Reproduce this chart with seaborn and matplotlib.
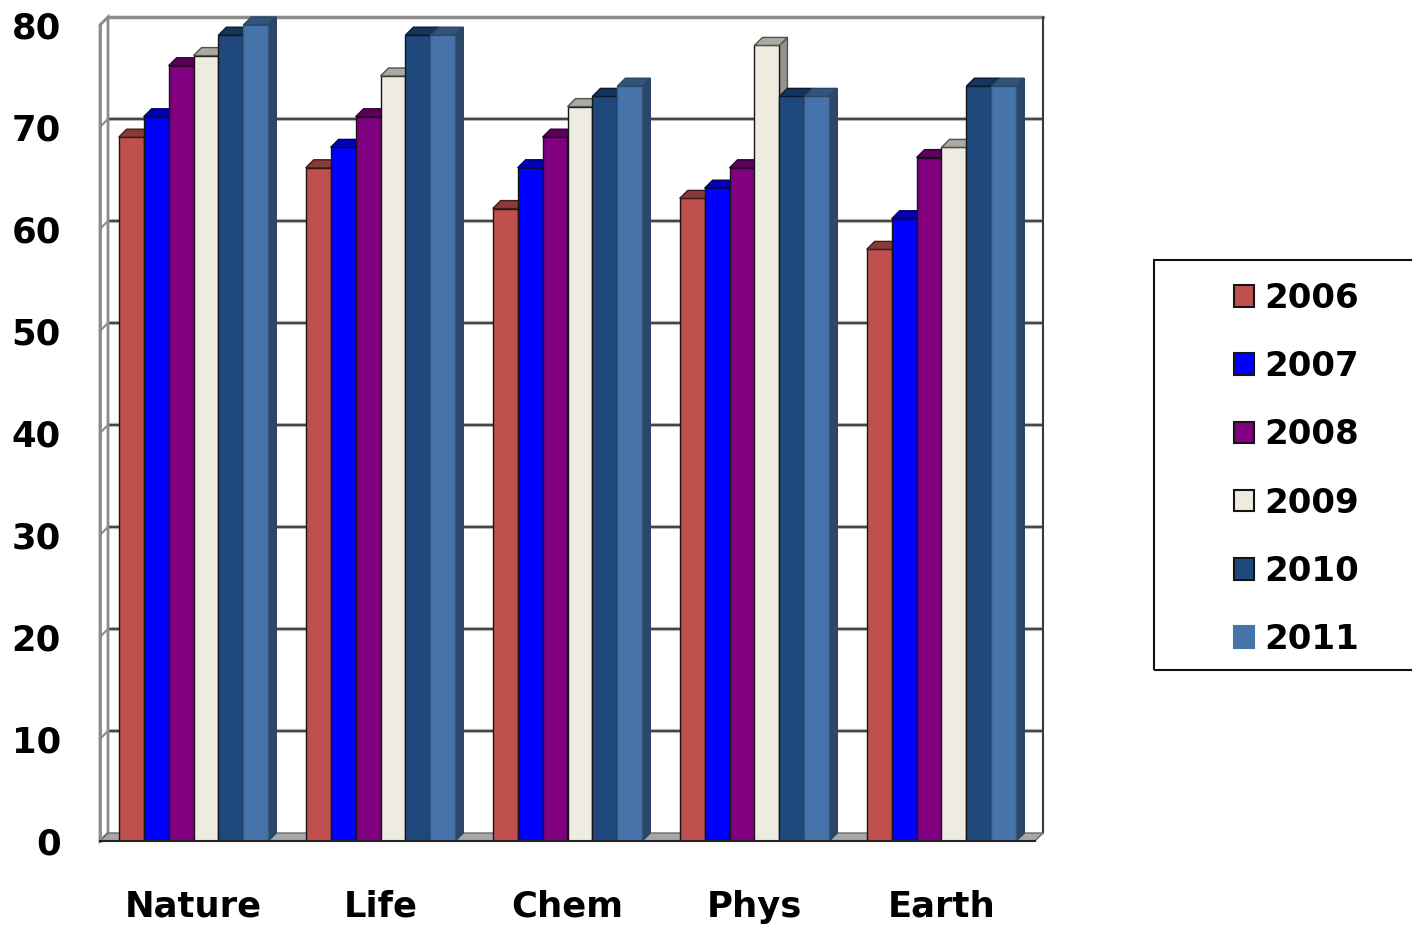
import matplotlib
matplotlib.use("Agg")
import matplotlib.pyplot as plt
import seaborn as sns
import pandas as pd
import numpy as np
from matplotlib.patches import Polygon, Rectangle
from matplotlib.colors import to_rgb

# ---- data -------------------------------------------------------------
categories = ["Nature", "Life", "Chem", "Phys", "Earth"]
years = ["2006", "2007", "2008", "2009", "2010", "2011"]

v2006 = [69, 66, 62, 63, 58]
v2007 = [71, 68, 66, 64, 61]
v2008 = [76, 71, 69, 66, 67]
v2009 = [77, 75, 72, 78, 68]
v2010 = [79, 79, 73, 73, 74]
v2011 = [80, 79, 74, 73, 74]
series = [v2006, v2007, v2008, v2009, v2010, v2011]

y_ticks = [0, 10, 20, 30, 40, 50, 60, 70, 80]

colors = ["#C0504D", "#0000FF", "#800080", "#EEECE1", "#1F497D", "#4674AA"]
palette = dict(zip(years, colors))

df = pd.DataFrame({
    "field": np.tile(categories, len(years)),
    "year": np.repeat(years, len(categories)),
    "score": np.concatenate(series),
})

# ---- figure -----------------------------------------------------------
sns.set_style("white")
plt.rcParams["font.family"] = ["DejaVu Sans"]
plt.rcParams["font.weight"] = "bold"
plt.rcParams["text.color"] = "black"
plt.rcParams["xtick.color"] = "black"
plt.rcParams["ytick.color"] = "black"
plt.rcParams["xtick.labelcolor"] = "black"
plt.rcParams["ytick.labelcolor"] = "black"

W, H = 1412, 926
fig = plt.figure(figsize=(W / 100, H / 100), dpi=100)
px_l, px_r, px_b, px_t = 100, 1035, 841, 25
ax = fig.add_axes([px_l / W, 1 - px_b / H, (px_r - px_l) / W, (px_b - px_t) / H])

sns.barplot(data=df, x="field", y="score", hue="year", hue_order=years,
            order=categories, palette=palette, width=0.8, saturation=1,
            edgecolor="#151515", linewidth=1.0, ax=ax, legend=True)

ax.set_xlim(-0.5, 4.5)
ax.set_ylim(0, 80)

# depth of the pseudo-3D box, in data units
depth_px = 8
ddx = depth_px / ((px_r - px_l) / 5)
ddy = depth_px / ((px_b - px_t) / 80)


def shade(c, f):
    r, g, b = to_rgb(c)
    return (r * f, g * f, b * f)


# floor and left wall
ax.add_patch(Polygon([(-0.5, 0), (4.5, 0), (4.5 + ddx, ddy), (-0.5 + ddx, ddy)],
                     closed=True, facecolor="#a8a8a8", edgecolor="#6a6a6a",
                     lw=1, zorder=1.2, clip_on=False))
ax.add_patch(Polygon([(-0.5, 0), (-0.5, 80), (-0.5 + ddx, 80 + ddy), (-0.5 + ddx, ddy)],
                     closed=True, facecolor="white", edgecolor="#8c8c8c",
                     lw=2, zorder=1.1, clip_on=False))

# back wall gridlines
for v in y_ticks[1:-1]:
    ax.plot([-0.5 + ddx, 4.5 + ddx], [v + ddy, v + ddy], color="#b5b5b5",
            lw=3, zorder=1, clip_on=False, solid_capstyle="butt")
    ax.plot([-0.5 + ddx, 4.5 + ddx], [v + ddy, v + ddy], color="#3a3a3a",
            lw=1.3, zorder=1.05, clip_on=False, solid_capstyle="butt")
for v in y_ticks:
    ax.plot([-0.5, -0.5 + ddx], [v, v + ddy], color="#8c8c8c", lw=1.5,
            zorder=1.15, clip_on=False)
ax.plot([-0.5 + ddx, 4.5 + ddx], [80 + ddy, 80 + ddy], color="#8c8c8c",
        lw=2.5, zorder=1, clip_on=False)
ax.plot([4.5 + ddx, 4.5 + ddx], [ddy, 80 + ddy], color="#3a3a3a",
        lw=1.5, zorder=1, clip_on=False)

# bar faces: front from seaborn, plus top and side faces
for h, cont in enumerate(ax.containers):
    base = colors[h]
    z = 3 + h
    for bar in cont:
        x0, w, hgt = bar.get_x(), bar.get_width(), bar.get_height()
        bar.set_zorder(z)
        if years[h] == "2011":
            bar.set_edgecolor(shade(base, 0.75))
        top_ec = shade(base, 0.35) if years[h] != "2011" else shade(base, 0.6)
        ax.add_patch(Polygon([(x0, hgt), (x0 + w, hgt), (x0 + w + ddx, hgt + ddy),
                              (x0 + ddx, hgt + ddy)], closed=True,
                             facecolor=shade(base, 0.72), edgecolor=top_ec,
                             lw=1.0, zorder=z, clip_on=False))
        ax.add_patch(Polygon([(x0 + w, 0), (x0 + w, hgt), (x0 + w + ddx, hgt + ddy),
                              (x0 + w + ddx, ddy)], closed=True,
                             facecolor=shade(base, 0.62), edgecolor=top_ec,
                             lw=1.0, zorder=z - 0.5, clip_on=False))

# axes, ticks and labels
for s in ["top", "right"]:
    ax.spines[s].set_visible(False)
ax.spines["left"].set_color("#8c8c8c")
ax.spines["left"].set_linewidth(2)
ax.spines["bottom"].set_color("#222222")
ax.spines["bottom"].set_linewidth(1.5)
ax.spines["bottom"].set_zorder(20)

ax.set_yticks(y_ticks)
ax.set_yticklabels([str(v) for v in y_ticks], fontsize=25.5, fontweight="bold",
                   color="black")
ax.tick_params(axis="y", direction="out", length=6, width=1.5, color="#111111", pad=22)

ax.set_xticks(np.arange(-0.5, 5.0, 1.0))
ax.set_xticklabels([""] * 6)
ax.set_xticks(np.arange(len(categories)), minor=True)
ax.set_xticklabels(categories, minor=True, fontsize=25.5, fontweight="bold",
                   color="black")
ax.tick_params(axis="x", which="major", direction="out", length=8, width=1.5, color="#111111")
ax.tick_params(axis="x", which="minor", length=0, pad=35)
ax.set_xlabel("")
ax.set_ylabel("")
ax.grid(False)

# legend
handles, labels = ax.get_legend_handles_labels()
ax.get_legend().remove()
for hd, lb in zip(handles, labels):
    hd.set_linewidth(1.5)
    if lb == "2011":
        hd.set_edgecolor(palette[lb])
    else:
        hd.set_edgecolor("#151515")
fig.legend(handles, labels, loc="upper left", bbox_to_anchor=(1234 / W, 1 - 282 / H),
           frameon=False, prop={"size": 24.5, "weight": "bold"},
           labelcolor="black", borderaxespad=0,
           handlelength=0.6, handleheight=0.6, handletextpad=0.3,
           labelspacing=1.035, borderpad=0)
fig.patches.append(Rectangle((1154 / W, 1 - 670 / H), 300 / W, 410 / H,
                             transform=fig.transFigure, facecolor="none",
                             edgecolor="#111111", lw=1.5, clip_on=False))

fig.savefig("out.png", dpi=100)
